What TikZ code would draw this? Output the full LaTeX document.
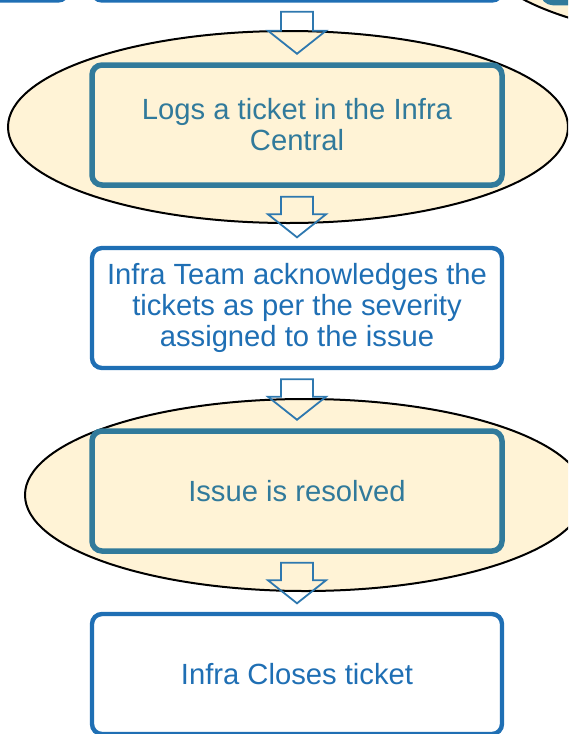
\documentclass[tikz,border=0pt]{standalone}
\usepackage{fontspec}
\setmainfont{Liberation Sans}
\usepackage{tikz}
\usetikzlibrary{calc}
\definecolor{tealline}{RGB}{49,122,155}
\definecolor{blueline}{RGB}{31,111,180}
\definecolor{arrowline}{RGB}{46,120,175}
\definecolor{cream}{RGB}{255,243,214}
\tikzset{
  font={\fontsize{14.6pt}{15.5pt}\selectfont},
  stepbox/.style={draw, rounded corners=5pt, minimum width=205pt, minimum height=60pt,
    align=center, inner sep=0pt},
  bluebox/.style={stepbox, draw=blueline, line width=2.2pt, fill=white, text=blueline},
  tealbox/.style={stepbox, draw=tealline, line width=2.75pt, fill=cream, text=tealline},
  halo/.style={draw=black, line width=1pt, fill=cream},
  flowarrow/.style={draw=arrowline, line width=0.9pt, line join=miter}}

\newcommand{\blockarrow}[2]{%
  \draw [flowarrow] ($(#1.south)+(-16,-9)$) -- ($(#2.north)+(-16,31.5)$)
    -- ($(#2.north)+(-29,31.5)$) -- ($(#2.north)+(0,8.5)$)
    -- ($(#2.north)+(29,31.5)$) -- ($(#2.north)+(16,31.5)$)
    -- ($(#1.south)+(16,-9)$) -- cycle;}

\begin{document}
\begin{tikzpicture}[x=0.5pt,y=0.5pt]
\useasboundingbox (0,0) rectangle (568,-734);
\clip (0,0) rectangle (568,-734);
\draw [halo] (758,53) ellipse (140pt and 48pt);
\draw [halo] (288,-127) ellipse (140pt and 48pt);
\draw [halo] (305,-495) ellipse (140pt and 48pt);
\node [bluebox] (prev) at (-137,59.5) {};
\node [bluebox] (report) at (297,59.5) {};
\node [tealbox] (extra) at (748,57.5) {};
\node [tealbox] (logs) at (297,-125) {Logs a ticket in the Infra\\Central};
\node [bluebox] (ack) at (297,-308) {Infra Team acknowledges the\\tickets as per the severity\\assigned to the issue};
\node [tealbox] (resolved) at (297,-491) {Issue is resolved};
\node [bluebox] (close) at (297,-674) {Infra Closes ticket};
\blockarrow{report}{logs}
\blockarrow{logs}{ack}
\blockarrow{ack}{resolved}
\blockarrow{resolved}{close}
\end{tikzpicture}
\end{document}
